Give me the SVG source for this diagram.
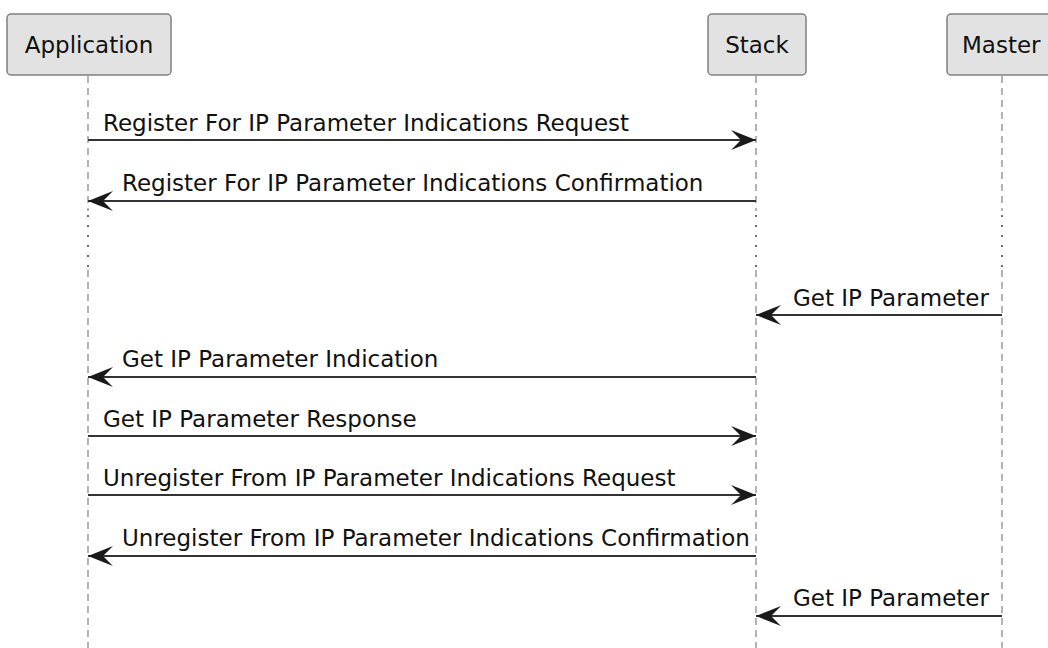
<svg xmlns="http://www.w3.org/2000/svg" width="1048" height="648" viewBox="0 0 1048 648">
<style>
.box{fill:#e2e2e2;stroke:#808080;stroke-width:1.5}
.t{font-family:"DejaVu Sans",sans-serif;font-size:23px;fill:#111}
.life{stroke:#8c8c8c;stroke-width:1.3;stroke-dasharray:7,5;fill:none}
.dot{stroke:#6e6e6e;stroke-width:2;stroke-dasharray:2,8;fill:none}
.msg{stroke:#333;stroke-width:1.8;fill:none;marker-end:url(#ah)}
</style>
<defs>
<marker id="ah" viewBox="0 0 25 20" refX="25" refY="10" markerWidth="25" markerHeight="20" markerUnits="userSpaceOnUse" orient="auto">
<path d="M0,0 L25,10 L0,20 L10,10 Z" fill="#1a1a1a"/>
</marker>
</defs>
<rect width="1048" height="648" fill="#fff"/>
<g id="lifelines">
<path class="life" d="M88,76 V211 M88,270 V648"/>
<path class="dot" d="M88,215 V268"/>
<path class="life" d="M756,76 V211 M756,270 V648"/>
<path class="dot" d="M756,215 V268"/>
<path class="life" d="M1002,76 V211 M1002,270 V648"/>
<path class="dot" d="M1002,215 V268"/>
</g>
<g id="Application">
<rect class="box" x="7" y="14" width="164" height="61" rx="4"/>
<text class="t" x="89" y="53" text-anchor="middle">Application</text>
</g>
<g id="Stack">
<rect class="box" x="708" y="14" width="98" height="61" rx="4"/>
<text class="t" x="757" y="53" text-anchor="middle">Stack</text>
</g>
<g id="Master">
<rect class="box" x="947" y="14" width="109" height="61" rx="4"/>
<text class="t" x="962" y="53">Master</text>
</g>
<g id="connectors">
<path class="msg" d="M88,140 H756"/>
<text class="t" x="103" y="131">Register For IP Parameter Indications Request</text>
<path class="msg" d="M756,201 H88"/>
<text class="t" x="122" y="191">Register For IP Parameter Indications Confirmation</text>
<path class="msg" d="M1002,315 H756"/>
<text class="t" x="793" y="306">Get IP Parameter</text>
<path class="msg" d="M756,377 H88"/>
<text class="t" x="122" y="367">Get IP Parameter Indication</text>
<path class="msg" d="M88,436 H756"/>
<text class="t" x="103" y="427">Get IP Parameter Response</text>
<path class="msg" d="M88,495 H756"/>
<text class="t" x="103" y="486">Unregister From IP Parameter Indications Request</text>
<path class="msg" d="M756,556 H88"/>
<text class="t" x="122" y="546">Unregister From IP Parameter Indications Confirmation</text>
<path class="msg" d="M1002,616 H756"/>
<text class="t" x="793" y="606">Get IP Parameter</text>
</g>
</svg>
